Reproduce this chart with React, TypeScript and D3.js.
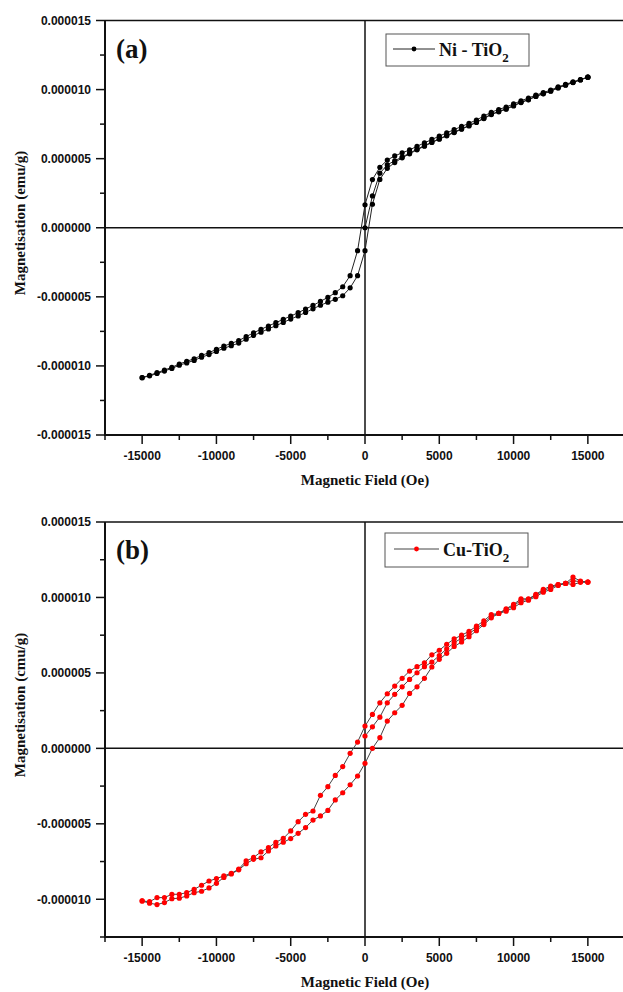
import React from 'react';
import * as d3 from 'd3';

// ---------- DATA (magnetisation in units of 1e-6 emu/g) ----------
const fieldGrid = [
  -15000, -14500, -14000, -13500, -13000, -12500, -12000, -11500, -11000, -10500,
  -10000, -9500, -9000, -8500, -8000, -7500, -7000, -6500, -6000, -5500,
  -5000, -4500, -4000, -3500, -3000, -2500, -2000, -1500, -1000, -500,
  0, 500, 1000, 1500, 2000, 2500, 3000, 3500, 4000, 4500,
  5000, 5500, 6000, 6500, 7000, 7500, 8000, 8500, 9000, 9500,
  10000, 10500, 11000, 11500, 12000, 12500, 13000, 13500, 14000, 14500, 15000,
];
const initialField = [
  0, 500, 1000, 1500, 2000, 2500, 3000, 3500, 4000, 4500,
  5000, 5500, 6000, 6500, 7000, 7500, 8000, 8500, 9000, 9500,
  10000, 10500, 11000, 11500, 12000, 12500, 13000, 13500, 14000, 14500, 15000,
];

// Ni-TiO2
const niInitial = [
  0.0, 2.30, 3.95, 4.55, 4.85, 5.12, 5.40, 5.68, 5.94, 6.20,
  6.44, 6.68, 6.92, 7.16, 7.40, 7.65, 7.93, 8.22, 8.42, 8.61,
  8.85, 9.08, 9.28, 9.52, 9.71, 9.90, 10.14, 10.34, 10.52, 10.71, 10.90,
];
const niDescending = [
  -10.85, -10.68, -10.49, -10.30, -10.10, -9.86, -9.67, -9.48, -9.24, -9.04,
  -8.80, -8.56, -8.37, -8.17, -7.88, -7.60, -7.35, -7.11, -6.87, -6.63,
  -6.39, -6.15, -5.88, -5.62, -5.33, -5.04, -4.70, -4.27, -3.47, -1.66,
  1.66, 3.49, 4.37, 4.90, 5.20, 5.42, 5.63, 5.90, 6.14, 6.39,
  6.63, 6.87, 7.10, 7.33, 7.56, 7.80, 8.08, 8.36, 8.56, 8.74,
  8.96, 9.19, 9.39, 9.60, 9.78, 9.97, 10.19, 10.38, 10.56, 10.72, 10.90,
];
const niAscending = [
  -10.85, -10.72, -10.55, -10.37, -10.18, -9.95, -9.78, -9.60, -9.37, -9.18,
  -8.95, -8.72, -8.54, -8.35, -8.07, -7.80, -7.56, -7.32, -7.09, -6.85,
  -6.61, -6.38, -6.13, -5.87, -5.61, -5.39, -5.18, -4.92, -4.35, -3.47,
  -1.66, 1.70, 3.50, 4.30, 4.72, 5.06, 5.35, 5.64, 5.90, 6.17,
  6.41, 6.65, 6.89, 7.13, 7.37, 7.62, 7.90, 8.19, 8.39, 8.58,
  8.82, 9.06, 9.26, 9.50, 9.69, 9.88, 10.12, 10.32, 10.51, 10.70, 10.90,
];

// Cu-TiO2
const cuInitial = [
  0.82, 1.43, 2.07, 3.02, 3.58, 4.08, 4.57, 5.01, 5.41, 5.72,
  6.15, 6.60, 7.00, 7.30, 7.60, 7.95, 8.30, 8.75, 8.94, 9.20,
  9.45, 9.80, 9.88, 10.15, 10.45, 10.65, 10.85, 10.93, 11.10, 11.05, 11.02,
];
const cuDescending = [
  -10.11, -10.16, -9.89, -9.89, -9.67, -9.67, -9.56, -9.34, -9.07, -8.79,
  -8.63, -8.45, -8.28, -8.00, -7.46, -7.23, -6.86, -6.58, -6.22, -5.97,
  -5.47, -4.86, -4.37, -4.15, -3.11, -2.54, -1.79, -1.21, -0.33, 0.42,
  1.48, 2.25, 3.02, 3.62, 4.13, 4.64, 5.12, 5.41, 5.67, 6.20,
  6.50, 6.90, 7.25, 7.50, 7.75, 8.10, 8.45, 8.87, 8.94, 9.25,
  9.54, 9.91, 9.91, 10.20, 10.53, 10.75, 10.86, 10.93, 10.86, 11.00, 11.02,
];
const cuAscending = [
  -10.11, -10.26, -10.35, -10.22, -9.96, -9.93, -9.78, -9.56, -9.47, -9.25,
  -8.94, -8.55, -8.32, -8.05, -7.64, -7.35, -7.25, -6.80, -6.47, -6.22,
  -5.98, -5.63, -5.25, -4.75, -4.48, -4.11, -3.42, -2.94, -2.41, -1.83,
  -0.99, 0.0, 0.71, 1.81, 2.36, 2.85, 3.64, 4.08, 4.64, 5.39,
  5.90, 6.30, 6.75, 7.05, 7.40, 7.80, 8.20, 8.65, 8.94, 9.09,
  9.32, 9.65, 9.82, 10.05, 10.35, 10.53, 10.80, 10.93, 11.35, 11.08, 11.02,
];

const xTicks = [-15000, -10000, -5000, 0, 5000, 10000, 15000];
const niYTicks = [-15, -10, -5, 0, 5, 10, 15];
const cuYTicks = [-10, -5, 0, 5, 10, 15];

// ---------- helpers ----------
type Pt = { h: number; m: number };
function buildLoop(init: number[], desc: number[], asc: number[]): Pt[] {
  const a: Pt[] = initialField.map((h, i) => ({ h, m: init[i] }));
  const d: Pt[] = fieldGrid.map((h, i) => ({ h, m: desc[i] })).reverse();
  const u: Pt[] = fieldGrid.map((h, i) => ({ h, m: asc[i] }));
  return [...a, ...d, ...u];
}

const X_LEFT = 105;
const X_RIGHT = 625;
const TICK_FONT = '"Liberation Sans", Arial, sans-serif';
const SERIF = '"Liberation Serif", "Times New Roman", serif';

type PanelProps = {
  top: number;
  bottom: number;
  yDomain: [number, number];
  yTicks: number[];
  data: Pt[];
  color: string;
  lineColor: string;
  tag: string;
  legendName: string;
  legendBox: { x: number; y: number; w: number; h: number };
  legendLine: [number, number];
  yLabel: string;
  yLabelCenter: number;
};

function Panel(p: PanelProps) {
  const x = d3.scaleLinear().domain([-17500, 17500]).range([X_LEFT, X_RIGHT]);
  const y = d3.scaleLinear().domain(p.yDomain).range([p.bottom, p.top]);
  const line = d3
    .line<Pt>()
    .x((d) => x(d.h))
    .y((d) => y(d.m));
  const xMinor = d3.range(-17500, 17501, 2500).filter((v) => !xTicks.includes(v));
  const yMinor = d3
    .range(p.yDomain[0], p.yDomain[1] + 0.01, 2.5)
    .filter((v) => !p.yTicks.some((t) => Math.abs(t - v) < 1e-9));
  const lb = p.legendBox;
  const legendY = lb.y + lb.h / 2 - 1;
  return (
    <g>
      {/* zero lines */}
      <line x1={X_LEFT} x2={X_RIGHT} y1={y(0)} y2={y(0)} stroke="#111" strokeWidth={1.5} />
      <line x1={x(0)} x2={x(0)} y1={p.top} y2={p.bottom} stroke="#111" strokeWidth={1.5} />
      {/* frame */}
      <line x1={X_LEFT} x2={X_RIGHT} y1={p.top} y2={p.top} stroke="#111" strokeWidth={1.5} />
      <line x1={X_LEFT} x2={X_RIGHT} y1={p.bottom} y2={p.bottom} stroke="#111" strokeWidth={2} />
      <line x1={X_LEFT} x2={X_LEFT} y1={p.top} y2={p.bottom + 1} stroke="#111" strokeWidth={2} />
      {/* data */}
      <path d={line(p.data) || ''} fill="none" stroke={p.lineColor} strokeWidth={1} />
      {p.data.map((d, i) => (
        <circle key={i} cx={x(d.h)} cy={y(d.m)} r={2.6} fill={p.color} />
      ))}
      {/* y ticks */}
      {p.yTicks.map((t) => (
        <g key={'yt' + t}>
          <line x1={X_LEFT - 9} x2={X_LEFT} y1={y(t)} y2={y(t)} stroke="#111" strokeWidth={1.5} />
          <text
            x={91}
            y={y(t) + 4.3}
            textAnchor="end"
            fontFamily={TICK_FONT}
            fontWeight="bold"
            fontSize={12}
            fill="#111"
          >
            {(t * 1e-6).toFixed(6)}
          </text>
        </g>
      ))}
      {yMinor.map((t) => (
        <line key={'ym' + t} x1={X_LEFT - 5} x2={X_LEFT} y1={y(t)} y2={y(t)} stroke="#111" strokeWidth={1.5} />
      ))}
      {/* x ticks */}
      {xTicks.map((t) => (
        <g key={'xt' + t}>
          <line x1={x(t)} x2={x(t)} y1={p.bottom} y2={p.bottom + 9} stroke="#111" strokeWidth={1.5} />
          <text
            x={x(t)}
            y={p.bottom + 24.5}
            textAnchor="middle"
            fontFamily={TICK_FONT}
            fontWeight="bold"
            fontSize={12}
            fill="#111"
          >
            {String(t)}
          </text>
        </g>
      ))}
      {xMinor.map((t) => (
        <line key={'xm' + t} x1={x(t)} x2={x(t)} y1={p.bottom} y2={p.bottom + 5} stroke="#111" strokeWidth={1.5} />
      ))}
      {/* axis titles */}
      <text
        x={x(0)}
        y={p.bottom + 50}
        textAnchor="middle"
        fontFamily={SERIF}
        fontWeight="bold"
        fontSize={15}
        fill="#111"
      >
        Magnetic Field (Oe)
      </text>
      <text
        transform={`translate(25, ${p.yLabelCenter}) rotate(-90)`}
        textAnchor="middle"
        fontFamily={SERIF}
        fontWeight="bold"
        fontSize={15}
        fill="#111"
      >
        {p.yLabel}
      </text>
      {/* panel tag */}
      <text x={116} y={p.top + 37} fontFamily={SERIF} fontWeight="bold" fontSize={27} fill="#111">
        {p.tag}
      </text>
      {/* legend */}
      <rect x={lb.x} y={lb.y} width={lb.w} height={lb.h} fill="#fff" stroke="#555" strokeWidth={1} />
      <line
        x1={p.legendLine[0]}
        x2={p.legendLine[1]}
        y1={legendY}
        y2={legendY}
        stroke={p.lineColor}
        strokeWidth={1}
      />
      <circle cx={(p.legendLine[0] + p.legendLine[1]) / 2} cy={legendY} r={2.4} fill={p.color} />
      <text x={p.legendLine[1] + 4} y={legendY + 6.5} fontFamily={SERIF} fontWeight="bold" fontSize={18} fill="#111">
        {p.legendName}
        <tspan fontSize={13} dy={6}>
          2
        </tspan>
      </text>
    </g>
  );
}

export default function App() {
  const niData = buildLoop(niInitial, niDescending, niAscending);
  const cuData = buildLoop(cuInitial, cuDescending, cuAscending);
  return (
    <svg
      width={623}
      height={992}
      style={{ position: 'absolute', left: 0, top: 0, background: '#fff' }}
    >
      <rect x={0} y={0} width={623} height={992} fill="#fff" />
      <Panel
        top={20.5}
        bottom={435}
        yDomain={[-15, 15]}
        yTicks={niYTicks}
        data={niData}
        color="#000"
        lineColor="#222"
        tag="(a)"
        legendName="Ni - TiO"
        legendBox={{ x: 386, y: 34, w: 143, h: 32 }}
        legendLine={[393, 435]}
        yLabel="Magnetisation (emu/g)"
        yLabelCenter={223}
      />
      <Panel
        top={522}
        bottom={937}
        yDomain={[-12.5, 15]}
        yTicks={cuYTicks}
        data={cuData}
        color="#ff0000"
        lineColor="#444"
        tag="(b)"
        legendName="Cu-TiO"
        legendBox={{ x: 385, y: 533, w: 143, h: 34 }}
        legendLine={[394, 439]}
        yLabel="Magnetisation (cmu/g)"
        yLabelCenter={705}
      />
    </svg>
  );
}
